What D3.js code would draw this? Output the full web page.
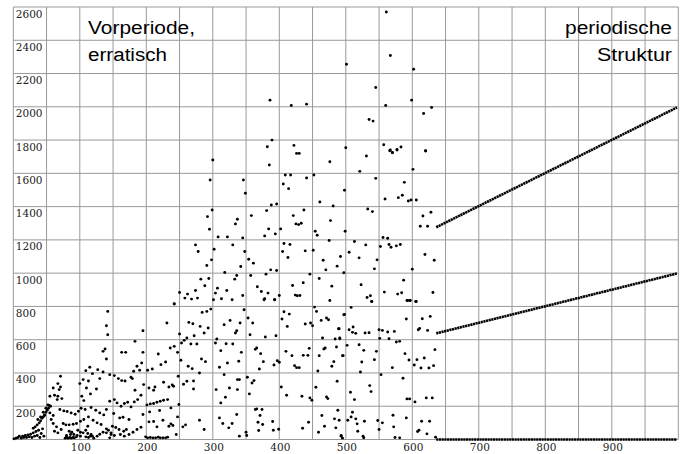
<!DOCTYPE html>
<html><head><meta charset="utf-8">
<script src="https://cdn.jsdelivr.net/npm/d3@7"></script>
<style>body{margin:0;background:#fff}svg{display:block}.tick{font-family:'DejaVu Serif','Liberation Serif',serif;font-size:10.5px;fill:#222}</style>
</head><body><svg id="c" width="697" height="454"></svg>
<script>
const xTicks=[100,200,300,400,500,600,700,800,900];
const yTicks=[200,400,600,800,1000,1200,1400,1600,1800,2000,2200,2400,2600];
const labelsLeft=["Vorperiode,","erratisch"];
const labelsRight=["periodische","Struktur"];

// erratic pre-period: [n, value]
const erraticStart=[[1,4],[4,8],[7,12],[9,20],[12,8],[14,20],[16,12],[18,24],[20,12],[22,28],[24,16],[26,32],[28,12],[30,40],[32,20],[34,48],[36,24],[38,56],[40,12],[42,36],[44,64],[46,20],[30,68],[33,76],[36,88],[39,100],[41,112],[43,128],[45,136],[47,148],[49,164],[51,176],[53,188],[54,204],
[55,160],[60,144],[57,120],[60,96],[65,76],[62,50],[67,40],[72,60],[80,24],[86,30],[91,30],[78,8],[82,8],[87,8],[92,10],[96,24],[101,20],[105,40],[109,56],[112,80],[116,20],[121,8],[126,20],[130,32],[135,44],[140,64],[147,40],[152,24]];
const erraticA=[[142,770],[140,684],[142,630],[138,544],[135,530],[140,484],[115,434],[109,414],[127,420],[135,406],[119,396],[130,366],[105,360],[113,352],[100,336],[110,310],[125,304],[116,274],[103,260],[106,234],
[71,380],[67,336],[60,310],[71,316],[69,300],[55,260],[62,266],[67,260],[73,246],[66,240],
[52,208],[56,200],[49,188],[45,164],[47,144],[41,136],[37,120],[70,180],[76,172],[81,168],[87,160],[93,152],[98,170],[102,188],[108,180],[117,192],[124,176],[130,160],[136,148],[140,180],
[75,96],[79,88],[84,88],[90,92],[95,96],[101,110],[106,120],[113,136],[120,116],[126,100],[132,90],[84,50],[88,44],[97,56],[101,44],[112,36],[117,30],[119,20],[80,16],[85,12],[90,12],[95,16],[109,16],[113,12],[140,40],[143,56]];
const erraticB=[[242,814],[291,770],[284,764],[297,784],[231,700],[195,654],[264,704],[270,696],[281,680],[293,670],[287,640],[272,624],[250,634],[261,610],[257,596],[253,580],[267,574],[276,574],[183,590],
[242,560],[236,550],[218,514],[163,524],[169,524],[195,524],[229,466],[222,450],[252,476],[283,484],[289,468],[263,440],[269,426],[193,460],[186,440],[190,416],[181,410],[202,416],[209,424],[247,524],
[145,390],[152,384],[158,366],[163,354],[168,352],[177,374],[179,366],[196,330],[204,310],[213,316],[226,344],[234,316],[239,328],[241,320],[248,380],[256,332],[261,350],[271,352],[280,400],[271,304],[211,296],[183,296],
[145,230],[152,240],[156,220],[162,200],[167,216],[172,224],[177,196],[182,226],[187,240],[192,266],[201,208],[206,214],[211,216],[216,224],[221,230],[226,236],[232,240],[237,190],[249,210],[220,174],[205,166],[195,150],[160,130],[165,134],[151,156],[174,120],[149,80],[154,72],[159,60],[166,50],[170,60],[174,30],[180,44],[186,60],[192,74],[161,30],[167,20],[204,106],[211,108],[216,76],[225,116],[234,80],[237,94],[240,84],[245,30],[247,136],[255,76],[259,88],[280,116],[287,60],
[199,16],[202,10],[206,12],[210,10],[214,10],[218,14],[221,10],[225,10],[229,10],[232,14],[145,10],[147,30],
[317,690],[326,716],[334,640],[336,654],[306,604],[304,580],[312,534],[320,576],[330,574],[310,434],[322,460],[339,470],[317,390],[325,310],[337,300],[305,300],[319,254],[312,220],[337,360],[310,130],[315,96],[324,70],[329,96],[336,150]];
const erraticC=[[377,840],[393,840],[347,780],[353,730],[360,700],[341,700],[356,630],[379,616],[395,624],[407,768],[415,754],[404,724],[412,680],[439,694],[447,700],[450,684],[453,796],[456,770],[463,716],[471,730],[474,720],[489,666],[465,610],[484,604],[491,606],[497,750],
[366,550],[364,542],[343,524],[372,516],[410,530],[419,504],[436,506],[443,506],[445,548],[460,504],[467,544],[469,550],[486,556],[495,504],
[376,468],[397,474],[400,464],[392,448],[370,424],[423,444],[426,432],[430,432],[482,468],[479,440],[458,412],
[340,360],[352,374],[362,354],[359,340],[355,274],[403,316],[411,266],[434,260],[446,250],[449,236],[455,314],[471,256],[473,246],[487,350],
[364,180],[366,184],[374,180],[371,144],[368,104],[375,90],[390,108],[391,56],[399,62],[369,54],[350,44],[351,24],[340,20],[435,68],[444,104],[464,144],[468,80],[459,44],[488,176],[483,124],[485,70],[493,20],[495,8]];
const erraticD=[[539,830],[592,836],[596,836],[606,830],[508,794],[498,752],[591,724],[615,726],[627,740],[611,668],[609,660],[623,656],[511,676],[505,660],[510,644],[515,638],[529,640],[535,642],[490,666],[491,610],[550,660],[555,656],[563,646],[573,650],[551,608],[565,606],[576,586],[581,590],
[502,566],[520,570],[527,536],[496,504],[546,530],[543,480],[524,466],[589,516],[595,478],[607,480],[603,448],[613,430],[618,490],[625,430],[632,444],[634,540],
[522,406],[553,390],[570,432],[586,368],[536,324],[538,288],[507,284],[513,240],[592,244],[596,244],[604,226],[621,250],[630,250],
[510,164],[503,116],[508,136],[515,124],[517,94],[518,50],[528,110],[490,116],[493,24],[526,20],[527,10],[548,114],[555,100],[550,60],[571,146],[572,76],[591,130],[574,12],[581,10],[614,110],[626,110],[610,56],[608,48],[622,34],[635,14]];
const erraticE=[[300,1680],[385,1650],[296,1560],[346,1560],[349,1480],[299,1380],[292,1340],[337,1324],[334,1296],[358,1346],[381,1376],[388,1410],[396,1416],[295,1264],[308,1218],[322,1218],[345,1212],[384,1266],[378,1224],[394,1236],
[274,1170],[278,1130],[302,1144],[330,1170],[298,1080],[291,1046],[348,1130],[354,1084],[361,1060],[342,1040],[318,1004],[336,986],[333,964],[357,986],[380,994],[387,1020],[396,1016],
[282,964],[294,968],[288,924],[250,884],[262,874],[258,850],[268,844],[274,896],[277,850],[307,910],[304,880],[321,896],[313,846],[301,840],[329,840],[345,866],[367,918],[373,890],[383,880],[378,846],[393,840],[242,816]];
const erraticF=[[426,1720],[430,1720],[476,1670],[531,1704],[566,1736],[570,1724],[577,1740],[620,1734],
[409,1590],[417,1590],[452,1590],[441,1572],[521,1612],[545,1570],[601,1624],[406,1536],[414,1508],[498,1498],[588,1546],[461,1428],[481,1404],[559,1446],[579,1454],[585,1468],[594,1434],[598,1440],[606,1440],
[437,1380],[421,1346],[533,1386],[540,1370],[477,1316],[425,1296],[429,1292],[433,1300],[402,1266],[454,1252],[457,1228],[499,1252],[616,1344],[628,1366],[612,1282],[623,1282],
[556,1214],[563,1210],[475,1196],[513,1190],[530,1170],[552,1160],[565,1172],[568,1156],[576,1164],[582,1172],[407,1178],[416,1172],[405,1130],[413,1094],[439,1134],[451,1138],[505,1126],[520,1092],[547,1080],[492,1100],[466,1078],[487,1042],[470,1020],[543,1026],[600,1024],[619,1112],[633,1078],
[400,866],[420,926],[424,868],[427,864],[431,866],[436,942],[446,994],[460,968],[479,922],[476,836],[497,1002],[523,930],[532,854],[537,864],[539,830],[558,886],[578,874],[584,882],[587,958],[593,836],[597,836],[605,830],[631,884]];
const erraticG=[[561,2570],[567,2308],[501,2256],[602,2226],[545,2116],[386,2040],[418,2008],[441,2016],[560,2008],[599,2040],[629,1996],[617,1960],[535,1924],[541,1914],[389,1800],[382,1760],[422,1768],[500,1754],[557,1772],[567,1740],[570,1726],[577,1744],[583,1758],[620,1736]];

// periodic part: three straight bands of points (endpoints)
const periodicUpper=[[636,1276],[998,1996]];
const periodicLower=[[636,638],[998,998]];
const periodicZero=[[636,0],[998,0]];

const svg=d3.select("#c");
const x=d3.scaleLinear().domain([0,1000]).range([13.3,678.3]);
const y=d3.scaleLinear().domain([0,2600]).range([439.5,7]);

const grid=svg.append("g").attr("stroke","#999").attr("stroke-width",1);
grid.selectAll("line.v").data(d3.range(0,1001,50)).join("line")
  .attr("x1",d=>x(d)).attr("x2",d=>x(d)).attr("y1",y(2600)).attr("y2",y(0));
grid.selectAll("line.h").data(d3.range(0,2601,200)).join("line")
  .attr("y1",d=>y(d)).attr("y2",d=>y(d)).attr("x1",x(0)).attr("x2",x(1000));

svg.append("g").selectAll("text").data(yTicks).join("text").attr("class","tick")
  .attr("x",x(0)+2.5).attr("y",d=>y(d)+10.5)
  .text(d=>d);
svg.append("g").selectAll("text").data(xTicks).join("text").attr("class","tick")
  .attr("x",d=>x(d)+1).attr("y",451).attr("text-anchor","middle")
  .text(d=>d);

const line=d3.line().x(d=>x(d[0])).y(d=>y(d[1]));
[periodicUpper,periodicLower,periodicZero].forEach(seg=>{
  svg.append("path").attr("d",line(seg)).attr("fill","none").attr("stroke","#000")
    .attr("stroke-width",2.6).attr("stroke-dasharray","2.2,0.5");
});

const pts=[].concat(erraticStart,erraticA,erraticB,erraticC,erraticD,erraticE,erraticF,erraticG);
svg.append("g").selectAll("circle").data(pts).join("circle")
  .attr("cx",d=>x(d[0])).attr("cy",d=>y(d[1])).attr("r",1.45).attr("fill","#000");

const tl=[107,79], tr=[107,75];
svg.append("g").selectAll("text").data(labelsLeft).join("text")
  .attr("x",88).attr("y",(d,i)=>34+i*27)
  .attr("font-family","Liberation Sans, Arial, sans-serif").attr("font-size","18px")
  .attr("textLength",(d,i)=>tl[i]).attr("lengthAdjust","spacingAndGlyphs").text(d=>d);
svg.append("g").selectAll("text").data(labelsRight).join("text")
  .attr("x",(d,i)=>672-tr[i]).attr("y",(d,i)=>34+i*27)
  .attr("font-family","Liberation Sans, Arial, sans-serif").attr("font-size","18px")
  .attr("textLength",(d,i)=>tr[i]).attr("lengthAdjust","spacingAndGlyphs").text(d=>d);
</script></body></html>
